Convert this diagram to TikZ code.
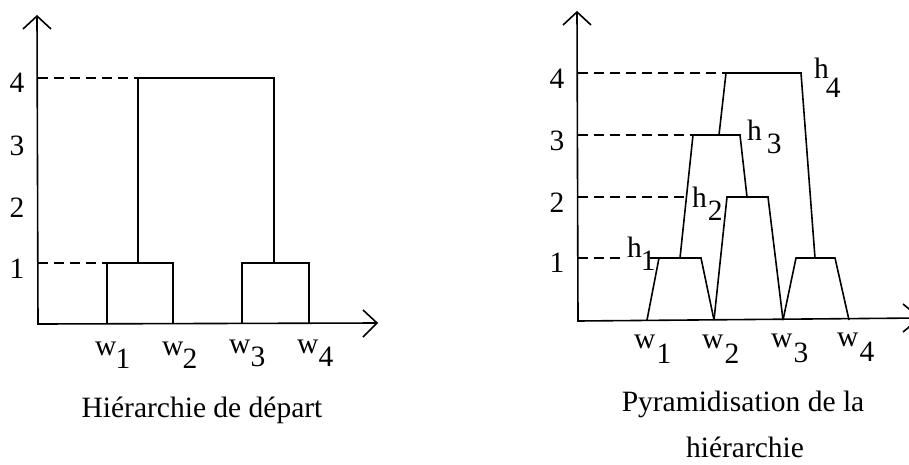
\documentclass[tikz,border=0pt]{standalone}
\usepackage{fontspec}
\setmainfont{Liberation Serif}
\newcommand\mysub[4]{#1\hspace{#3}\raisebox{#4}{#2}}
\begin{document}
\begin{tikzpicture}[x=1pt,y=-1pt,
  ln/.style={line width=1.6pt,line join=miter},
  dsh/.style={line width=1.6pt,dash pattern=on 10pt off 6pt},
  txt/.style={font=\fontsize{29.5}{34}\selectfont,inner sep=0pt,anchor=base},
  wl/.style={txt,anchor=base west},
]
\useasboundingbox (0,0) rectangle (909,464);
% ---------- left panel ----------
\coordinate (LO) at (38,324);
\coordinate (LY) at (37,16);
\coordinate (LX) at (377,323);
\draw[ln] (LY) -- (LO) -- (LX);
\draw[ln] (23,29) -- (LY) -- (51,29);
\draw[ln] (363,310) -- (LX) -- (363,337);
\coordinate (LA1) at (107,324); \coordinate (LA2) at (107,263);
\coordinate (LA3) at (173,263); \coordinate (LA4) at (173,324);
\coordinate (LB1) at (242,324); \coordinate (LB2) at (242,263);
\coordinate (LB3) at (309,263); \coordinate (LB4) at (309,324);
\coordinate (LC1) at (138,263); \coordinate (LC2) at (138,78);
\coordinate (LC3) at (274,78); \coordinate (LC4) at (274,263);
\draw[ln] (LA1) -- (LA2) -- (LA3) -- (LA4);
\draw[ln] (LB1) -- (LB2) -- (LB3) -- (LB4);
\draw[ln] (LC1) -- (LC2) -- (LC3) -- (LC4);
\draw[dsh] (38,78) -- (LC2);
\draw[dsh] (38,263) -- (LA2);
\node[txt] (ly4) at (17,92) {4};
\node[txt] (ly3) at (17,155) {3};
\node[txt] (ly2) at (17,217) {2};
\node[txt] (ly1) at (17,278) {1};
\node[wl] (lw1) at (95,355) {\mysub{w}{1}{-1pt}{-13pt}};
\node[wl] (lw2) at (162,355) {\mysub{w}{2}{-1pt}{-13pt}};
\node[wl] (lw3) at (229,353) {\mysub{w}{3}{0pt}{-13pt}};
\node[wl] (lw4) at (297,353) {\mysub{w}{4}{0pt}{-13pt}};
\node[txt] (lcap) at (202,417) {Hiérarchie de départ};
% ---------- right panel ----------
\coordinate (RO) at (578,321);
\coordinate (RY) at (577,12);
\coordinate (RX) at (920,318);
\draw[ln] (RY) -- (RO) -- (RX);
\draw[ln] (563,25) -- (RY) -- (591,25);
\draw[ln] (903,304) -- (RX) -- (903,332);
% trapezoids
\draw[ln] (647,320) -- (659,258) -- (701,258) -- (714,320);
\draw[ln] (714,320) -- (727,197) -- (768,197) -- (783,320);
\draw[ln] (783,320) -- (796,258) -- (835,258) -- (849,320);
\draw[ln] (680,258) -- (693,135) -- (740,135) -- (747,197);
\draw[ln] (719,135) -- (726,73) -- (801,73) -- (815,258);
\draw[dsh] (578,73) -- (726,73);
\draw[dsh] (578,135) -- (693,135);
\draw[dsh] (578,197) -- (690,197);
\draw[dsh] (578,258) -- (626,258);
\draw[ln] (650,258) -- (659,258);
\node[txt] (ry4) at (557,88) {4};
\node[txt] (ry3) at (557,150) {3};
\node[txt] (ry2) at (557,212) {2};
\node[txt] (ry1) at (557,272) {1};
\node[wl] (rh1) at (627,257) {\mysub{h}{1}{-1pt}{-13pt}};
\node[wl] (rh2) at (692,207) {\mysub{h}{2}{1pt}{-13pt}};
\node[wl] (rh3) at (747,140) {\mysub{h}{3}{5pt}{-13pt}};
\node[wl] (rh4) at (814,78) {\mysub{h}{4}{-3pt}{-19pt}};
\node[wl] (rw1) at (634,348) {\mysub{w}{1}{1pt}{-15pt}};
\node[wl] (rw2) at (702,348) {\mysub{w}{2}{1pt}{-15pt}};
\node[wl] (rw3) at (771,347) {\mysub{w}{3}{1pt}{-15pt}};
\node[wl] (rw4) at (837,346) {\mysub{w}{4}{1pt}{-15pt}};
\node[txt] (rcap1) at (743,411) {Pyramidisation de la};
\node[txt] (rcap2) at (745,457) {hiérarchie};
\end{tikzpicture}
\end{document}
